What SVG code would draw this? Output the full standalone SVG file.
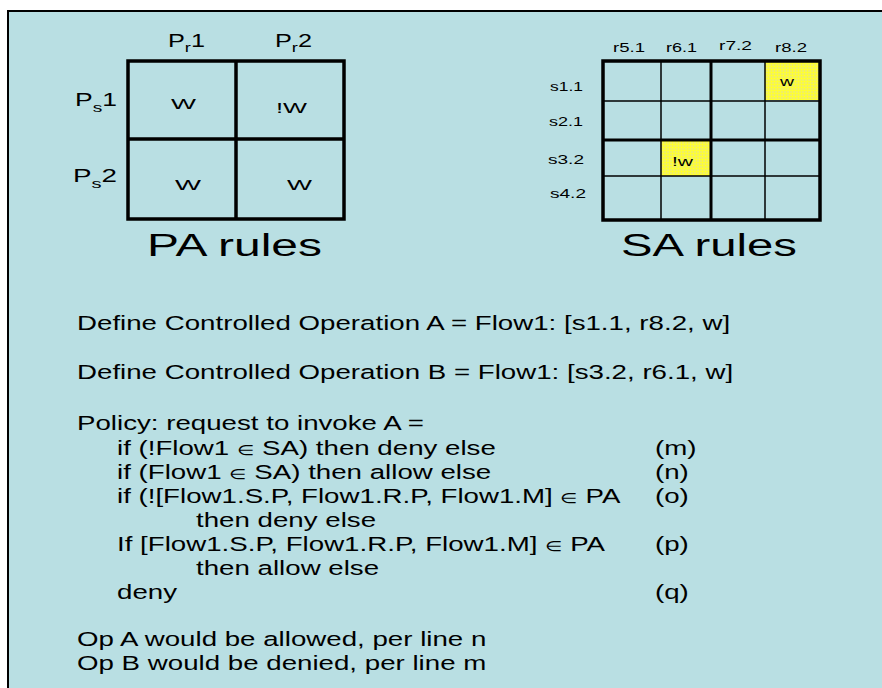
<svg xmlns="http://www.w3.org/2000/svg" width="882" height="688" viewBox="0 0 882 688">
<defs>
<pattern id="yel" width="3" height="3" patternUnits="userSpaceOnUse">
<rect width="3" height="3" fill="#efef66"/>
<path d="M0 0.5H3M0.5 0V3" stroke="#ffff30" stroke-width="0.9"/>
</pattern>
<style>
text{font-family:"Liberation Sans",Arial,sans-serif;fill:#000}
.body{font-size:19.5px}
.hdr{font-size:18px}
.sub{font-size:13px}
.cell{font-size:15px}
.lab{font-size:12.5px}
.big{font-size:31px}
.sym{font-size:14px}
.thick{stroke:#000;stroke-width:3.5;fill:none}
.mid{stroke:#000;stroke-width:3;fill:none}
.thin{stroke:#000;stroke-width:1.5;fill:none}
</style>
</defs>
<rect width="882" height="688" fill="#fff"/>
<rect x="8" y="11" width="900" height="700" fill="#b9dfe3" stroke="#000" stroke-width="2"/>

<g id="pa-table">
<rect class="thick" x="128" y="61" width="216" height="158"/>
<line class="thick" x1="236" y1="61" x2="236" y2="219"/>
<line class="thick" x1="128" y1="139" x2="344" y2="139"/>
<text class="hdr" x="168" y="47" textLength="37" lengthAdjust="spacingAndGlyphs">P<tspan class="sub" dy="5">r</tspan><tspan dy="-5">1</tspan></text>
<text class="hdr" x="275" y="47" textLength="37" lengthAdjust="spacingAndGlyphs">P<tspan class="sub" dy="5">r</tspan><tspan dy="-5">2</tspan></text>
<text class="hdr" x="75" y="106" textLength="42" lengthAdjust="spacingAndGlyphs">P<tspan class="sub" dy="6">s</tspan><tspan dy="-6">1</tspan></text>
<text class="hdr" x="73" y="182" textLength="44" lengthAdjust="spacingAndGlyphs">P<tspan class="sub" dy="6">s</tspan><tspan dy="-6">2</tspan></text>
<text class="cell" x="171" y="109" textLength="25" lengthAdjust="spacingAndGlyphs">W</text>
<text class="cell" x="276" y="113" textLength="31" lengthAdjust="spacingAndGlyphs">!W</text>
<text class="cell" x="175" y="190" textLength="26" lengthAdjust="spacingAndGlyphs">W</text>
<text class="cell" x="287" y="190" textLength="25" lengthAdjust="spacingAndGlyphs">W</text>
<text class="big" x="147" y="256" textLength="175" lengthAdjust="spacingAndGlyphs">PA rules</text>
</g>

<g id="sa-table">
<rect x="765" y="61" width="54" height="39" fill="url(#yel)"/>
<rect x="661" y="140" width="50" height="36" fill="url(#yel)"/>
<line class="thin" x1="661" y1="61" x2="661" y2="220"/>
<line class="thin" x1="765" y1="61" x2="765" y2="220"/>
<line class="thin" x1="603" y1="101" x2="820" y2="101"/>
<line class="thin" x1="603" y1="176" x2="820" y2="176"/>
<line class="mid" x1="711" y1="61" x2="711" y2="220"/>
<line class="mid" x1="603" y1="140" x2="820" y2="140"/>
<rect class="thick" x="603" y="61" width="217" height="159"/>
<text class="lab" x="613" y="52" textLength="32" lengthAdjust="spacingAndGlyphs">r5.1</text>
<text class="lab" x="666" y="52" textLength="31" lengthAdjust="spacingAndGlyphs">r6.1</text>
<text class="lab" x="719" y="50" textLength="33" lengthAdjust="spacingAndGlyphs">r7.2</text>
<text class="lab" x="775" y="52" textLength="32" lengthAdjust="spacingAndGlyphs">r8.2</text>
<text class="lab" x="550" y="91" textLength="33" lengthAdjust="spacingAndGlyphs">s1.1</text>
<text class="lab" x="549" y="126" textLength="34" lengthAdjust="spacingAndGlyphs">s2.1</text>
<text class="lab" x="548" y="164" textLength="36" lengthAdjust="spacingAndGlyphs">s3.2</text>
<text class="lab" x="550" y="198" textLength="36" lengthAdjust="spacingAndGlyphs">s4.2</text>
<text class="lab" x="780" y="86" textLength="14" lengthAdjust="spacingAndGlyphs">w</text>
<text class="lab" x="672" y="166" textLength="21" lengthAdjust="spacingAndGlyphs">!w</text>
<text class="big" x="621" y="256" textLength="176" lengthAdjust="spacingAndGlyphs">SA rules</text>
</g>

<g id="policy-text" transform="scale(1.42,1)">
<text class="body" x="54.23" y="330">Define Controlled Operation A = Flow1: [s1.1, r8.2, w]</text>
<text class="body" x="54.23" y="379">Define Controlled Operation B = Flow1: [s3.2, r6.1, w]</text>
<text class="body" x="54.23" y="430">Policy: request to invoke A =</text>
<text class="body" x="82.39" y="455">if (!Flow1 <tspan class="sym">∈</tspan> SA) then deny else</text>
<text class="body" x="82.39" y="479">if (Flow1 <tspan class="sym">∈</tspan> SA) then allow else</text>
<text class="body" x="82.39" y="503">if (![Flow1.S.P, Flow1.R.P, Flow1.M] <tspan class="sym">∈</tspan> PA</text>
<text class="body" x="138.03" y="527">then deny else</text>
<text class="body" x="82.39" y="551">If [Flow1.S.P, Flow1.R.P, Flow1.M] <tspan class="sym">∈</tspan> PA</text>
<text class="body" x="138.03" y="575">then allow else</text>
<text class="body" x="82.39" y="599">deny</text>
<text class="body" x="461.27" y="455">(m)</text>
<text class="body" x="461.27" y="479">(n)</text>
<text class="body" x="461.27" y="503">(o)</text>
<text class="body" x="461.27" y="551">(p)</text>
<text class="body" x="461.27" y="599">(q)</text>
<text class="body" x="54.23" y="646">Op A would be allowed, per line n</text>
<text class="body" x="54.23" y="670">Op B would be denied, per line m</text>
</g>
</svg>
